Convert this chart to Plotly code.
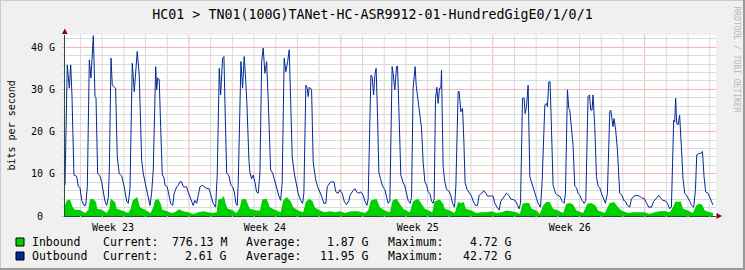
import plotly.graph_objects as go

# ---------------- data (time in hours since start of the 30-day window, values in Gbit/s)
out_hours = [0, 2.5, 4.8, 6.3, 7.7, 9.9, 12.9, 14.7, 16.6, 18.5, 21.0, 22.9, 24.7, 26.9, 28.7, 31.3, 33.2, 34.3,
             36.1, 38.7, 40.6, 42.3, 44.2, 46.1, 47.9, 49.0, 50.9, 52.3, 54.2, 56.0, 57.8, 60.0, 62.7, 65.6, 68.2,
             70.0, 71.9, 74.4, 76.6, 79.9, 82.1, 84.8, 86.6, 89.5, 92.1, 94.0, 95.8, 97.6, 100.3, 101.4, 102.5,
             104.2, 105.8, 107.6, 109.4, 110.6, 113.1, 115.0, 116.9, 119.1, 120.8, 123.5, 125.3, 127.1, 129.0,
             130.8, 134.5, 136.3, 138.2, 140.1, 141.8, 143.7, 145.6, 147.4, 149.2, 151.8, 154.0, 156.6, 159.2,
             162.2, 163.9, 166.6, 168.4, 170.6, 172.1, 174.3, 175.8, 176.9, 178.8, 181.3, 183.5, 185.4, 187.2,
             189.0, 190.5, 191.6, 194.6, 196.4, 198.2, 199.8, 201.2, 203.4, 204.5, 206.4, 208.2, 210.0, 211.9,
             213.7, 215.6, 217.5, 219.2, 221.1, 223.0, 224.7, 227.4, 229.6, 232.2, 234.0, 236.6, 238.5, 240.2,
             242.4, 244.3, 246.2, 248.0, 249.5, 251.3, 253.5, 256.1, 257.9, 260.6, 262.8, 264.2, 266.4, 267.9,
             269.0, 270.1, 272.7, 274.5, 277.1, 279.4, 281.9, 283.8, 286.3, 288.5, 290.0, 293.0, 294.8, 297.4,
             299.6, 302.1, 304.0, 306.6, 308.8, 311.4, 314.0, 315.1, 317.6, 320.6, 322.5, 325.0, 327.2, 329.8,
             331.7, 333.9, 335.3, 338.3, 339.7, 341.3, 342.7, 344.1, 345.7, 347.1, 349.0, 351.2, 353.7, 355.6,
             357.4, 359.3, 361.8, 362.9, 364.8, 366.7, 367.8, 369.2, 371.4, 374.0, 375.9, 377.7, 379.5, 381.7,
             383.3, 385.0, 386.1, 387.3, 388.4, 389.9, 392.5, 394.3, 396.1, 398.0, 399.9, 401.6, 403.5, 405.4,
             407.2, 408.3, 409.8, 411.3, 412.7, 414.2, 415.7, 416.4, 418.2, 420.1, 422.0, 424.5, 426.7, 428.6,
             430.8, 432.3, 434.8, 435.9, 437.8, 439.7, 441.1, 442.5, 444.7, 447.0, 449.6, 451.4, 454.0, 456.2,
             458.0, 460.7, 463.2, 465.4, 467.3, 469.8, 471.7, 473.5, 475.4, 477.9, 480.1, 482.0, 484.5, 486.4,
             488.3, 490.8, 493.1, 495.6, 498.3, 500.5, 502.2, 503.8, 506.0, 507.8, 508.9, 510.4, 512.2, 514.1,
             515.9, 517.7, 519.6, 521.5, 523.3, 525.9, 527.7, 530.7, 532.5, 533.6, 535.1, 536.5, 538.1, 539.8,
             542.5, 544.7, 547.2, 549.8, 552.0, 553.5, 555.7, 557.2, 558.3, 560.1, 561.9, 563.8, 565.7, 567.4,
             569.3, 571.9, 574.1, 576.0, 578.5, 580.1, 581.5, 582.9, 584.0, 585.9, 587.8, 589.6, 591.4, 593.3,
             595.1, 597.7, 599.9, 602.5, 603.6, 605.0, 606.1, 607.2, 609.1, 611.0, 613.5, 616.1, 617.9, 619.8,
             622.0, 624.6, 626.4, 629.3, 631.9, 635.6, 638.2, 640.4, 643.0, 645.6, 648.6, 651.1, 654.1, 656.7,
             658.9, 661.4, 664.1, 666.3, 668.8, 670.7, 673.2, 674.3, 675.4, 676.5, 678.0, 679.8, 681.7, 683.5,
             685.4, 688.0, 691.0, 692.8, 695.4, 697.3, 698.7, 700.9, 703.1, 705.0, 706.8, 708.6, 711.2, 713.0,
             714.9, 716.6]
out_gbps = [7.3, 35.8, 30.3, 35.8, 28.7, 9.7, 9.4, 7.0, 6.7, 3.7, 2.5, 2.5, 7.0, 37.0, 32.7, 42.72, 28.3, 28.0,
            10.1, 9.5, 8.0, 5.7, 3.5, 2.5, 4.4, 10.6, 37.4, 31.0, 30.5, 30.3, 14.0, 10.0, 9.5, 6.8, 3.5,
            3.0, 6.5, 36.2, 29.5, 39.0, 33.4, 13.2, 10.0, 7.3, 4.4, 2.5, 5.4, 10.9, 35.4, 29.9, 32.7,
            32.4, 21.0, 9.7, 9.2, 7.3, 6.9, 4.9, 3.0, 2.5, 5.4, 6.9, 7.3, 8.1, 8.1,
            6.9, 6.9, 5.6, 4.4, 3.7, 2.5, 3.7, 3.0, 4.9, 6.9, 7.3, 6.9, 6.5, 6.5,
            4.4, 3.0, 2.1, 10.0, 35.0, 28.7, 37.4, 37.8, 26.7, 10.2, 9.5, 7.3, 6.9, 5.7,
            3.0, 2.5, 7.9, 36.6, 30.3, 37.8, 32.4, 26.7, 13.2, 10.4, 8.8, 9.7, 8.1, 5.7,
            5.4, 10.2, 36.6, 39.8, 33.8, 36.6, 27.9, 10.9, 10.2, 7.9, 6.3, 4.7, 3.7, 7.9,
            37.4, 34.2, 36.6, 39.4, 27.9, 14.0, 10.2, 7.3, 5.4, 3.7, 3.0, 5.4, 31.0, 30.3,
            28.3, 30.5, 30.0, 12.8, 8.8, 6.9, 5.7, 4.7, 3.0, 3.0, 6.9, 7.9, 8.1, 8.1,
            5.7, 5.4, 6.2, 5.4, 3.5, 2.7, 3.6, 4.9, 5.7, 6.5, 5.7, 5.4, 5.7, 4.9,
            3.5, 2.5, 4.0, 33.4, 33.0, 28.7, 33.4, 35.0, 23.5, 10.4, 8.8, 7.1, 6.3, 4.7,
            3.0, 3.5, 35.4, 33.8, 29.9, 35.4, 35.5, 25.9, 9.7, 7.9, 7.1, 5.4, 3.7, 3.0,
            4.4, 30.3, 32.4, 35.4, 31.0, 28.7, 24.3, 20.8, 12.8, 8.1, 7.3, 5.7, 5.4, 3.5,
            3.0, 4.1, 27.9, 30.5, 26.7, 30.3, 30.3, 34.6, 11.7, 8.1, 6.3, 5.9, 4.9, 3.0,
            2.1, 7.1, 29.5, 29.5, 24.7, 25.5, 17.9, 7.9, 6.3, 5.4, 4.7, 3.5, 2.5, 2.5,
            4.9, 5.4, 6.0, 5.4, 4.7, 4.7, 4.8, 4.7, 3.0, 2.1, 1.4, 3.5, 4.2, 4.7,
            5.4, 4.9, 4.0, 3.9, 3.6, 2.5, 1.7, 3.0, 27.9, 27.9, 24.3, 25.9, 31.0, 9.3,
            7.9, 7.1, 5.0, 4.2, 3.0, 2.1, 8.1, 26.3, 26.7, 25.9, 31.8, 31.8, 20.3, 7.3,
            5.4, 4.9, 4.7, 3.5, 3.0, 5.4, 29.9, 25.5, 25.1, 21.2, 16.8, 7.1, 6.7, 5.4,
            4.9, 3.7, 3.0, 3.7, 28.3, 28.7, 25.1, 25.1, 28.7, 21.2, 9.3, 7.1, 6.7, 5.4,
            4.2, 3.0, 5.4, 24.7, 25.1, 22.8, 21.2, 23.1, 20.3, 15.6, 5.4, 4.9, 3.7, 3.5,
            2.5, 2.1, 4.0, 4.7, 4.9, 4.7, 4.2, 4.2, 3.0, 2.1, 2.1, 3.5, 4.2, 4.9,
            4.2, 3.7, 3.6, 3.0, 1.7, 2.1, 22.7, 22.3, 27.9, 22.0, 21.6, 23.9, 16.4, 8.8,
            5.4, 4.7, 3.5, 2.5, 2.1, 6.3, 14.5, 14.8, 14.8, 15.3, 9.3, 5.7, 5.4, 4.2,
            3.5, 2.61]

in_hours = [0, 1.9, 5.5, 8.5, 11.1, 16.6, 22.1, 25.8, 27.6, 31.3, 34.3, 35.7, 40.6, 46.1, 49.0, 50.5, 55.3, 57.2,
            62.7, 70.0, 72.6, 74.8, 79.9, 82.9, 88.4, 94.7, 97.6, 99.5, 103.1, 105.8, 107.6, 112.4, 118.0, 121.6,
            126.0, 130.8, 136.3, 141.8, 147.4, 152.9, 158.4, 163.9, 167.7, 169.5, 173.2, 175.8, 177.7, 179.9,
            184.3, 189.8, 193.5, 195.3, 199.8, 202.0, 204.5, 211.9, 215.6, 218.1, 223.0, 226.6, 232.2, 238.5,
            241.3, 245.1, 249.5, 252.4, 257.9, 263.4, 266.4, 270.1, 273.8, 276.4, 281.9, 287.4, 293.0, 298.5,
            304.0, 309.5, 316.9, 324.2, 331.7, 335.3, 338.3, 344.6, 348.2, 353.8, 359.3, 362.3, 366.7, 370.3,
            374.0, 381.4, 385.0, 390.6, 394.3, 398.0, 406.1, 409.0, 414.6, 418.2, 420.1, 425.6, 431.1, 434.8,
            438.5, 441.1, 443.3, 449.6, 455.1, 460.7, 466.2, 471.7, 477.2, 482.8, 488.3, 493.8, 499.4, 503.0,
            506.0, 509.6, 513.3, 515.9, 521.5, 525.1, 528.8, 532.5, 536.2, 539.8, 545.3, 550.9, 554.6, 558.3,
            561.9, 565.7, 573.0, 577.8, 582.3, 586.7, 589.6, 597.0, 602.5, 607.2, 611.7, 615.4, 622.7, 628.3,
            633.8, 641.2, 646.7, 652.2, 657.7, 663.3, 668.8, 672.5, 675.2, 678.0, 681.0, 683.5, 689.0, 694.5,
            698.2, 700.8, 704.5, 707.5, 713.0, 716.6]
in_gbps = [2.5, 3.7, 3.9, 2.1, 1.5, 1.4, 0.7, 1.4, 3.9, 4.1, 3.3, 1.7, 1.5, 0.7, 1.7, 4.1, 3.3, 1.7,
           1.3, 0.7, 1.7, 3.7, 4.5, 2.1, 1.5, 0.7, 2.1, 3.7, 4.1, 2.9, 1.5, 1.2, 0.7, 0.9,
           1.6, 1.1, 0.9, 0.5, 0.9, 1.1, 0.9, 0.7, 0.9, 3.9, 4.1, 4.72, 2.9, 1.7,
           1.5, 0.7, 2.1, 3.9, 4.1, 2.9, 1.7, 1.3, 1.3, 3.9, 4.1, 2.1, 1.5, 0.9,
           3.7, 4.5, 3.5, 2.1, 1.3, 0.9, 3.3, 4.1, 3.5, 2.0, 1.3, 0.9, 1.1, 0.9,
           1.1, 0.7, 1.1, 1.1, 0.7, 1.3, 3.7, 4.1, 2.1, 1.3, 0.9, 3.7, 4.1, 2.9,
           1.7, 0.9, 3.5, 4.1, 2.9, 1.7, 0.9, 3.5, 3.9, 2.9, 1.7, 1.3, 0.7, 3.3,
           3.1, 3.3, 1.7, 1.3, 0.7, 0.9, 0.9, 1.1, 0.7, 0.9, 1.3, 1.1, 0.9, 0.5,
           2.9, 3.1, 3.1, 1.7, 1.3, 0.5, 2.5, 3.3, 3.3, 1.7, 1.3, 0.7, 2.9, 3.1,
           2.7, 1.3, 0.7, 2.9, 3.1, 2.5, 1.3, 0.7, 3.1, 3.3, 2.1, 1.3, 0.7, 0.9,
           0.9, 0.9, 0.5, 0.9, 1.1, 1.2, 0.9, 2.1, 3.5, 3.3, 3.5, 1.7, 1.3, 0.7,
           2.5, 2.9, 2.7, 1.3, 0.9, 0.78]

x_range_hours = [0, 720]
y_range_gbps = [0, 42.9]
week_label_hours = [53.1, 221.1, 390.2, 558.3]
week_labels = ["Week 23", "Week 24", "Week 25", "Week 26"]
week_start_hours = [137.1, 305.1, 473.1, 641.1]
y_tickvals = [0, 10, 20, 30, 40]
y_ticktext = ["0\u00a0\u00a0", "10 G", "20 G", "30 G", "40 G"]

title_text = "HC01 > TN01(100G)TANet-HC-ASR9912-01-HundredGigE0/1/0/1"
series_names = ["Inbound", "Outbound"]
stat_labels = ["Current:", "Average:", "Maximum:"]
inbound_stats = ["776.13 M", "1.87 G", "4.72 G"]
outbound_stats = ["2.61 G", "11.95 G", "42.72 G"]

# ---------------- style
W, H = 745, 270
L, R, T, B = 65, 29, 35, 54
MONO = "DejaVu Sans Mono"
IN_COLOR = "#00CF00"
OUT_COLOR = "#002A97"
AXIS_COLOR = "#2C4D43"
ARROW_COLOR = "#8B0000"
MAJOR_GRID = "#F6B4B4"
MINOR_GRID = "#DADADA"
BACK = "#F0F0F0"
HOURS_PER_DAY = 24

pw, ph = W - L - R, H - T - B


def px(xp):
    return (xp - L) / pw


def py(yp):
    return (H - B - yp) / ph


fig = go.Figure()
fig.add_trace(go.Scatter(x=in_hours, y=in_gbps, mode="none", fill="tozeroy",
                         fillcolor=IN_COLOR, name=series_names[0], hoverinfo="skip"))
fig.add_trace(go.Scatter(x=out_hours, y=out_gbps, mode="lines",
                         line=dict(color=OUT_COLOR, width=1),
                         name=series_names[1], hoverinfo="skip"))

shapes = []
# vertical grid: one line per day, red at each week start
day_lines = []
t = week_start_hours[0]
while t - HOURS_PER_DAY > x_range_hours[0]:
    t -= HOURS_PER_DAY
while t < x_range_hours[1]:
    day_lines.append(t)
    t += HOURS_PER_DAY
for d in day_lines:
    is_week = any(abs(d - w) < 0.5 for w in week_start_hours)
    col = MAJOR_GRID if is_week else MINOR_GRID
    shapes.append(dict(type="line", layer="below", xref="x", yref="paper", x0=d, x1=d, y0=0, y1=1,
                       line=dict(color=col, width=1)))
    shapes.append(dict(type="line", layer="above", xref="x", yref="paper", x0=d, x1=d, y0=py(216), y1=py(218.5),
                       line=dict(color=col, width=1)))

# axis arrows
shapes.append(dict(type="path", xref="paper", yref="paper",
                   path=f"M {px(62)},{py(34)} L {px(64.8)},{py(28.5)} L {px(67.6)},{py(34)} Z",
                   fillcolor=ARROW_COLOR, line=dict(width=0)))
shapes.append(dict(type="path", xref="paper", yref="paper",
                   path=f"M {px(716.5)},{py(213)} L {px(722)},{py(216)} L {px(716.5)},{py(219)} Z",
                   fillcolor=ARROW_COLOR, line=dict(width=0)))
# frame shading
shapes.append(dict(type="line", xref="paper", yref="paper", x0=px(0), x1=px(W), y0=py(0.5), y1=py(0.5),
                   line=dict(color="#CBCBCB", width=1)))
shapes.append(dict(type="line", xref="paper", yref="paper", x0=px(0.5), x1=px(0.5), y0=py(0), y1=py(H),
                   line=dict(color="#CBCBCB", width=1)))
shapes.append(dict(type="line", xref="paper", yref="paper", x0=px(0), x1=px(W), y0=py(H - 1), y1=py(H - 1),
                   line=dict(color="#999999", width=2)))
shapes.append(dict(type="line", xref="paper", yref="paper", x0=px(W - 1), x1=px(W - 1), y0=py(0), y1=py(H),
                   line=dict(color="#999999", width=2)))
# legend swatches
for (y0, col) in [(238, IN_COLOR), (252, OUT_COLOR)]:
    shapes.append(dict(type="rect", xref="paper", yref="paper", x0=px(16), x1=px(24), y0=py(y0 + 8), y1=py(y0),
                       fillcolor=col, line=dict(color="#000000", width=1)))

annotations = []
annotations.append(dict(text="bits per second", xref="paper", yref="paper", x=px(11), y=py(125.5),
                        textangle=-90, showarrow=False, font=dict(family=MONO, size=10, color="#000"),
                        xanchor="center", yanchor="middle"))
annotations.append(dict(text="RRDTOOL / TOBI OETIKER", xref="paper", yref="paper", x=px(736.5), y=py(59),
                        textangle=90, showarrow=False, font=dict(family=MONO, size=8, color="#B8B8B8"),
                        xanchor="center", yanchor="middle"))
rows = [(242.3, series_names[0], inbound_stats), (255.8, series_names[1], outbound_stats)]
label_x = [102.4, 244.8, 386.7]
value_right = [227.6, 370.0, 512.9]
for yc, name, stats in rows:
    annotations.append(dict(text=name, xref="paper", yref="paper", x=px(29.5), y=py(yc), showarrow=False,
                            xanchor="left", yanchor="middle", font=dict(family=MONO, size=11.5, color="#000")))
    for lab, lx, val, vr in zip(stat_labels, label_x, stats, value_right):
        annotations.append(dict(text=lab, xref="paper", yref="paper", x=px(lx - 1), y=py(yc), showarrow=False,
                                xanchor="left", yanchor="middle",
                                font=dict(family=MONO, size=11.5, color="#000")))
        annotations.append(dict(text=val, xref="paper", yref="paper", x=px(vr + 1), y=py(yc), showarrow=False,
                                xanchor="right", yanchor="middle",
                                font=dict(family=MONO, size=11.5, color="#000")))

fig.update_layout(
    width=W, height=H,
    margin=dict(l=L, r=R, t=T, b=B, pad=0),
    paper_bgcolor=BACK, plot_bgcolor="#FFFFFF",
    showlegend=False,
    title=dict(text=title_text, x=0.5, xref="container", xanchor="center",
               y=1 - 14.5 / H, yref="container", yanchor="middle",
               font=dict(family=MONO, size=13.3, color="#000")),
    xaxis=dict(range=x_range_hours, tickmode="array", tickvals=week_label_hours, ticktext=week_labels,
               showgrid=False, zeroline=False, ticks="", showline=True, linecolor=AXIS_COLOR, linewidth=1,
               tickfont=dict(family=MONO, size=10, color="#000"), ticklabelstandoff=2, fixedrange=True),
    yaxis=dict(range=y_range_gbps, tickmode="array", tickvals=y_tickvals, ticktext=y_ticktext,
               showgrid=True, gridcolor=MAJOR_GRID, gridwidth=1, zeroline=False,
               ticks="outside", ticklen=3, tickcolor=MAJOR_GRID, showline=True, linecolor=AXIS_COLOR,
               linewidth=1, tickfont=dict(family=MONO, size=10, color="#000"), ticklabelstandoff=4,
               fixedrange=True,
               minor=dict(tick0=0, dtick=2, showgrid=True, gridcolor=MINOR_GRID,
                          gridwidth=1, ticks="outside", ticklen=2, tickcolor=MINOR_GRID)),
    shapes=shapes,
    annotations=annotations,
)

fig.write_html("out.html", config={"displayModeBar": False})
